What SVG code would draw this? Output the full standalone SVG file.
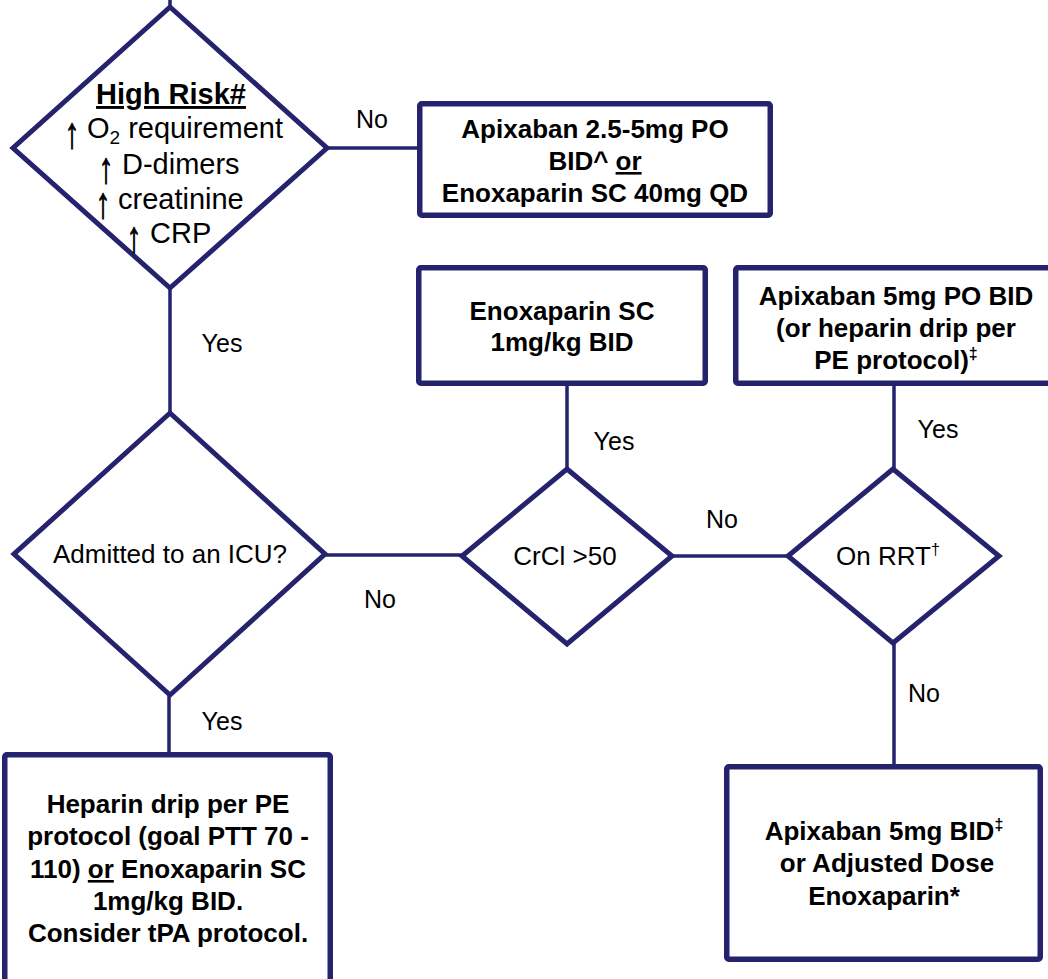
<svg xmlns="http://www.w3.org/2000/svg" width="1048" height="979" viewBox="0 0 1048 979">
<style>
.shape{fill:#fff;stroke:#25226e;stroke-width:5;stroke-linejoin:miter}
.box{fill:#fff;stroke:#25226e;stroke-width:5.5}
.conn{stroke:#25226e;stroke-width:3.5;fill:none}
.t{font-family:"Liberation Sans",Arial,sans-serif;fill:#000;text-anchor:middle}
.s{font-family:"Liberation Sans",Arial,sans-serif;fill:#000;text-anchor:start;font-size:29px}
.ar{font-family:"Liberation Sans",Arial,sans-serif;fill:#000;stroke:#000;stroke-width:0.7;text-anchor:middle;font-size:29px}
.b{font-weight:bold;font-size:26px}
.r{font-size:26px}
.big{font-size:29px}
.lbl{font-size:25px}
</style>
<rect width="1048" height="979" fill="#fff"/>
<g id="connectors">
<line class="conn" x1="170" y1="0" x2="170" y2="8"/>
<line class="conn" x1="327" y1="148" x2="418" y2="148"/>
<line class="conn" x1="170" y1="288" x2="170" y2="413"/>
<line class="conn" x1="325" y1="555" x2="462" y2="555"/>
<line class="conn" x1="567" y1="469" x2="567" y2="385"/>
<line class="conn" x1="672" y1="556" x2="788" y2="556"/>
<line class="conn" x1="894" y1="469" x2="894" y2="385"/>
<line class="conn" x1="894" y1="643" x2="894" y2="765"/>
<line class="conn" x1="169" y1="695" x2="169" y2="753"/>
<text class="t lbl" x="372" y="128">No</text>
<text class="t lbl" x="222" y="352">Yes</text>
<text class="t lbl" x="614" y="450">Yes</text>
<text class="t lbl" x="722" y="528">No</text>
<text class="t lbl" x="380" y="608">No</text>
<text class="t lbl" x="938" y="438">Yes</text>
<text class="t lbl" x="924" y="702">No</text>
<text class="t lbl" x="222" y="730">Yes</text>
</g>
<g id="high-risk">
<polygon class="shape" points="170,7 327,148 170,288 13,148"/>
<text class="t big" x="171" y="104" font-weight="bold" text-decoration="underline">High Risk#</text>
<text class="ar" transform="translate(72,148) scale(1,1.5)">↑</text>
<text class="s" x="87" y="138">O<tspan font-size="19" dy="6">2</tspan><tspan dy="-6"> requirement</tspan></text>
<text class="ar" transform="translate(106,183) scale(1,1.5)">↑</text>
<text class="s" x="122" y="174">D-dimers</text>
<text class="ar" transform="translate(103,218) scale(1,1.5)">↑</text>
<text class="s" x="118" y="209">creatinine</text>
<text class="ar" transform="translate(134,252) scale(1,1.5)">↑</text>
<text class="s" x="150" y="243">CRP</text>
</g>
<g id="prophylaxis">
<rect class="box" x="419.75" y="103.75" width="350.5" height="111.5" rx="2"/>
<text class="t b" x="595" y="138">Apixaban 2.5-5mg PO</text>
<text class="t b" x="595" y="170">BID^ <tspan text-decoration="underline">or</tspan></text>
<text class="t b" x="595" y="202">Enoxaparin SC 40mg QD</text>
</g>
<g id="enox-full">
<rect class="box" x="418.75" y="267.75" width="286.5" height="115.5" rx="2"/>
<text class="t b" x="562" y="320">Enoxaparin SC</text>
<text class="t b" x="562" y="351">1mg/kg BID</text>
</g>
<g id="apix-pe">
<rect class="box" x="735.75" y="267.75" width="330" height="115.5" rx="2"/>
<text class="t b" x="896" y="305">Apixaban 5mg PO BID</text>
<text class="t b" x="896" y="337">(or heparin drip per</text>
<text class="t b" x="896" y="369">PE protocol)<tspan font-size="16" dy="-10">‡</tspan></text>
</g>
<g id="icu">
<polygon class="shape" points="170,413 325,554 170,695 14,554"/>
<text class="t r" x="170" y="563">Admitted to an ICU?</text>
</g>
<g id="crcl">
<polygon class="shape" points="567,469 672,556 567,644 462,556"/>
<text class="t r" x="565" y="565">CrCl &gt;50</text>
</g>
<g id="rrt">
<polygon class="shape" points="893,469 999,556 893,643 788,556"/>
<text class="t r" x="888" y="565">On RRT<tspan font-size="16" dy="-10">†</tspan></text>
</g>
<g id="heparin">
<rect class="box" x="4.75" y="754.75" width="325.5" height="240" rx="2"/>
<text class="t b" x="168" y="813">Heparin drip per PE</text>
<text class="t b" x="168" y="845">protocol (goal PTT 70 -</text>
<text class="t b" x="168" y="878">110) <tspan text-decoration="underline">or</tspan> Enoxaparin SC</text>
<text class="t b" x="168" y="910">1mg/kg BID.</text>
<text class="t b" x="168" y="942">Consider tPA protocol.</text>
</g>
<g id="apix-adjusted">
<rect class="box" x="726.75" y="766.75" width="313.5" height="192.5" rx="2"/>
<text class="t b" x="884" y="840">Apixaban 5mg BID<tspan font-size="16" dy="-10">‡</tspan></text>
<text class="t b" x="887" y="872"> or Adjusted Dose</text>
<text class="t b" x="884" y="905">Enoxaparin*</text>
</g>
</svg>
